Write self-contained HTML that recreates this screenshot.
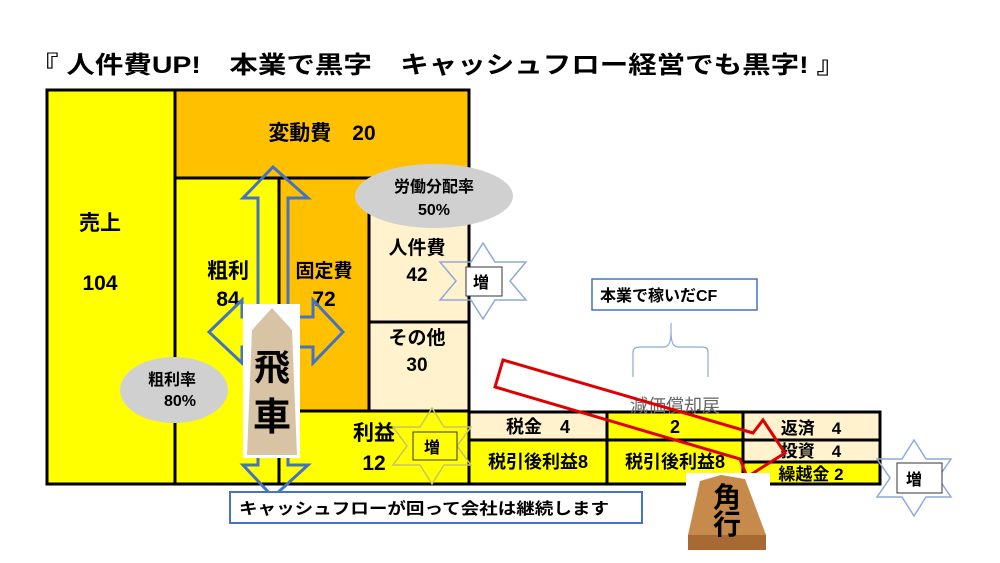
<!DOCTYPE html>
<html><head><meta charset="utf-8"><style>
html,body{margin:0;padding:0;background:#fff;}
svg{display:block;}
text{font-family:"Liberation Sans","Noto Sans CJK JP",sans-serif;}
.b{font-weight:bold;}
</style></head><body>
<svg width="1000" height="563" viewBox="0 0 1000 563" xmlns="http://www.w3.org/2000/svg">
<text x="30" y="73" font-size="24" class="b" textLength="815" lengthAdjust="spacingAndGlyphs">『 人件費UP!　本業で黒字　キャッシュフロー経営でも黒字! 』</text>

<g stroke="#000" stroke-width="3">
<rect x="47" y="90" width="128" height="394" fill="#FFFF00"/>
<rect x="175" y="90" width="294" height="88" fill="#FFC000"/>
<rect x="175" y="178" width="104" height="306" fill="#FFFF00"/>
<rect x="279" y="178" width="90" height="233" fill="#FFC000"/>
<rect x="369" y="178" width="100" height="144" fill="#FFF2CC"/>
<rect x="369" y="322" width="100" height="89" fill="#FFF2CC"/>
<rect x="279" y="411" width="190" height="73" fill="#FFFF00"/>
<rect x="469" y="412" width="138" height="28" fill="#FFF2CC"/>
<rect x="469" y="440" width="138" height="44" fill="#FFFF00"/>
<rect x="607" y="412" width="136" height="28" fill="#FFFF00"/>
<rect x="607" y="440" width="136" height="44" fill="#FFFF00"/>
<rect x="743" y="412" width="137" height="28" fill="#FFF2CC"/>
<rect x="743" y="440" width="137" height="22" fill="#FFF2CC"/>
<rect x="743" y="462" width="137" height="22" fill="#FFFF00"/>
</g>

<ellipse cx="434" cy="196" rx="79" ry="32" fill="#D0D0D0"/>
<ellipse cx="174" cy="390" rx="54" ry="33" fill="#D0D0D0"/>

<g font-size="21" class="b" text-anchor="middle">
<text x="100" y="230">売上</text>
<text x="100" y="290">104</text>
<text x="322" y="140">変動費　20</text>
<text x="228" y="278">粗利</text>
<text x="228" y="306">84</text>
<text x="324" y="277" font-size="19">固定費</text>
<text x="324" y="306">72</text>
<text x="417" y="254" font-size="19">人件費</text>
<text x="417" y="281" font-size="19">42</text>
<text x="417" y="344" font-size="19">その他</text>
<text x="417" y="371" font-size="19">30</text>
<text x="374" y="440">利益</text>
<text x="374" y="470">12</text>
<text x="538" y="433" font-size="18">税金　4</text>
<text x="538" y="468" font-size="18">税引後利益8</text>
<text x="675" y="433" font-size="18">2</text>
<text x="675" y="468" font-size="18">税引後利益8</text>
<text x="811" y="434" font-size="17">返済　4</text>
<text x="811" y="457" font-size="17">投資　4</text>
<text x="811" y="480" font-size="17">繰越金 2</text>
</g>
<g font-size="16" text-anchor="middle" class="b">
<text x="434" y="192">労働分配率</text>
<text x="434" y="215">50%</text>
<text x="172" y="385">粗利率</text>
<text x="180" y="406">80%</text>
</g>

<!-- blue cross arrow -->
<path d="M273 167 L308 198 L288 198 L288 317 L313 317 L313 300 L343 332 L313 363 L313 347 L288 347 L288 465 L308 465 L273 497 L243 465 L258 465 L258 347 L242 347 L242 363 L209 332 L242 300 L242 317 L258 317 L258 198 L243 198 Z" fill="none" stroke="#4472C4" stroke-width="3"/>

<!-- hisha piece -->
<rect x="243" y="304" width="57" height="154" fill="#fff"/>
<path d="M272 308 L292 330 L297 455 L247 455 L252 330 Z" fill="#D9C3A5"/>
<text x="272" y="380" font-size="36" text-anchor="middle" font-weight="bold" font-family="'Noto Serif CJK SC',serif">飛</text>
<text x="272" y="430" font-size="38" text-anchor="middle" font-weight="bold" font-family="'Noto Serif CJK SC',serif">車</text>

<!-- stars -->
<polygon points="483,243 495,262 526,262 510,281 526,300 495,300 483,319 471,300 440,300 456,281 440,262 471,262" fill="none" stroke="#8EA9DB" stroke-width="1.5"/>
<rect x="466" y="267" width="36" height="29" fill="#fff" stroke="#333" stroke-width="1"/>
<text x="473" y="288" font-size="16" class="b">増</text>
<polygon points="432,408 444,427 471,427 457,446 471,465 444,465 432,484 420,465 393,465 407,446 393,427 420,427" fill="none" stroke="#C9C36A" stroke-width="1.5"/>
<rect x="413" y="432" width="44" height="28" fill="#FFFF00" stroke="#333" stroke-width="1"/>
<text x="424" y="453" font-size="16" class="b">増</text>
<polygon points="914,440 926,459 951,459 938,478 951,497 926,497 914,516 902,497 877,497 890,478 877,459 902,459" fill="none" stroke="#8EA9DB" stroke-width="1.5"/>
<rect x="897" y="463" width="45" height="30" fill="#fff" stroke="#333" stroke-width="1"/>
<text x="906" y="485" font-size="16" class="b">増</text>

<!-- CF box and brace -->
<rect x="592" y="279" width="165" height="31" fill="#fff" stroke="#4472C4" stroke-width="1.5"/>
<text x="600" y="301" font-size="16" class="b">本業で稼いだCF</text>
<path d="M633 377 L633 352 Q633 347 640 347 L664 347 Q671 347 671 332 L671 323 M671 323 L671 332 Q671 347 678 347 L702 347 Q708 347 708 352 L708 377" fill="none" stroke="#8EA9DB" stroke-width="1.2"/>
<text x="630" y="412" font-size="18" fill="#666">減価償却戻</text>

<!-- red arrow -->
<polygon points="503,360 753,433 763,420 785,453 747,477 740,459 495,387" fill="none" stroke="#E00000" stroke-width="3"/>

<!-- bottom box -->
<rect x="230" y="492" width="412" height="31" fill="#fff" stroke="#4472C4" stroke-width="2"/>
<text x="239" y="514" font-size="16" class="b" textLength="370" lengthAdjust="spacingAndGlyphs">キャッシュフローが回って会社は継続します</text>

<!-- kakugyo piece -->
<rect x="686" y="473" width="84" height="80" fill="#fff"/>
<path d="M721 475 L745 479 L766 535 L766 550 L688 550 L688 535 L700 481 Z" fill="#C68A4A"/>
<path d="M688 535 L766 535 L766 550 L688 550 Z" fill="#A86A35"/>
<text x="727" y="507" font-size="28" text-anchor="middle" font-weight="bold" font-family="'Noto Serif CJK SC',serif">角</text>
<text x="727" y="534" font-size="28" text-anchor="middle" font-weight="bold" font-family="'Noto Serif CJK SC',serif">行</text>
</svg>
</body></html>
